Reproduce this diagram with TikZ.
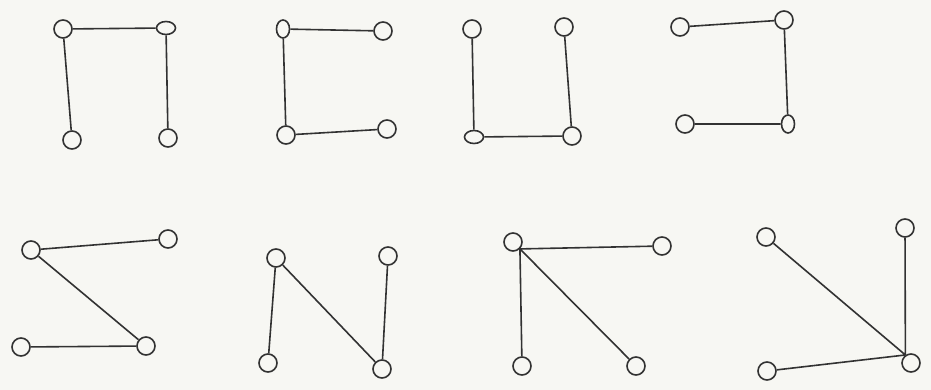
\documentclass[tikz,border=0pt]{standalone}
\usetikzlibrary{shapes.geometric}
\definecolor{paper}{RGB}{247,247,243}
\definecolor{ink}{RGB}{50,50,50}
\begin{document}
\begin{tikzpicture}[x=1pt,y=-1pt,
  v/.style={ellipse,draw=ink,line width=1.6pt,fill=paper,inner sep=0pt,minimum width=18pt,minimum height=18pt},
  vw/.style={v,minimum width=19pt,minimum height=13pt},
  vt/.style={v,minimum width=13pt,minimum height=18pt},
  e/.style={draw=ink,line width=1.6pt}]
\fill[paper] (0,0) rectangle (931,390);
\useasboundingbox (0,0) rectangle (931,390);
% graph 1
\node[v]  (a1) at (63,29) {};
\node[vw] (b1) at (166,28) {};
\node[v]  (c1) at (72,140) {};
\node[v]  (d1) at (168,138) {};
\draw[e] (a1) -- (b1) (a1) -- (c1) (b1) -- (d1);
% graph 2
\node[vt] (a2) at (283,29) {};
\node[v]  (b2) at (383,31) {};
\node[v]  (c2) at (286,135) {};
\node[v]  (d2) at (387,129) {};
\draw[e] (a2) -- (b2) (a2) -- (c2) (c2) -- (d2);
% graph 3
\node[v]  (a3) at (472,29) {};
\node[v]  (b3) at (564,27) {};
\node[vw] (c3) at (474,137) {};
\node[v]  (d3) at (572,136) {};
\draw[e] (a3) -- (c3) (b3) -- (d3) (c3) -- (d3);
% graph 4
\node[v]  (a4) at (680,27) {};
\node[v]  (b4) at (784,20) {};
\node[v]  (c4) at (685,124) {};
\node[vt] (d4) at (788,124) {};
\draw[e] (a4) -- (b4) (b4) -- (d4) (c4) -- (d4);
% graph 5
\node[v]  (a5) at (31,250) {};
\node[v]  (b5) at (168,239) {};
\node[v]  (c5) at (21,347) {};
\node[v]  (d5) at (146,346) {};
\draw[e] (a5) -- (b5) (a5) -- (d5) (c5) -- (d5);
% graph 6
\node[v]  (a6) at (276,258) {};
\node[v]  (b6) at (388,256) {};
\node[v]  (c6) at (268,363) {};
\node[v]  (d6) at (382,369) {};
\draw[e] (a6) -- (c6) (a6) -- (d6) (b6) -- (d6);
% graph 7
\node[v]  (a7) at (513,242) {};
\node[v]  (b7) at (662,246) {};
\node[v]  (c7) at (522,366) {};
\node[v]  (d7) at (636,366) {};
\coordinate (p7) at (a7.-45);
\draw[e] (p7) -- (b7) (p7) -- (c7) (p7) -- (d7);
% graph 8
\node[v]  (a8) at (766,237) {};
\node[v]  (b8) at (905,228) {};
\node[v]  (c8) at (767,371) {};
\node[v]  (d8) at (911,363) {};
\coordinate (p8) at (d8.125);
\draw[e] (a8) -- (p8) (b8) -- (p8) (c8) -- (p8);
\end{tikzpicture}
\end{document}
